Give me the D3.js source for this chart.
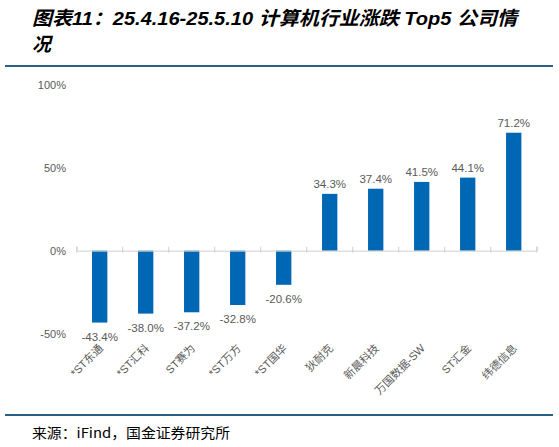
<!DOCTYPE html>
<html><head><meta charset="utf-8">
<script src="https://cdn.jsdelivr.net/npm/d3@7"></script>
<style>
html,body{margin:0;padding:0;background:#fff;}
svg{display:block;}
</style></head>
<body>
<svg id="c" width="559" height="447"></svg>
<script>
const categories = ["*ST东通","*ST汇科","ST赛为","*ST万方","*ST国华","狄耐克","新晨科技","万国数据-SW","ST汇金","纬德信息"];
const values = [-43.4,-38.0,-37.2,-32.8,-20.6,34.3,37.4,41.5,44.1,71.2];
const yTicks = [-50,0,50,100];

const svg = d3.select("#c");
const font = "Arial, 'Liberation Sans', 'Noto Sans CJK SC', sans-serif";
const grey = "#595959";

// title
const title = svg.append("text").attr("font-family", font).attr("font-weight","bold")
  .attr("font-style","italic").attr("font-size",19).attr("fill","#000");
title.append("tspan").attr("x",32).attr("y",25).attr("textLength",485).attr("lengthAdjust","spacingAndGlyphs")
  .text("图表11：25.4.16-25.5.10 计算机行业涨跌 Top5 公司情");
title.append("tspan").attr("x",32).attr("y",51).text("况");

// rules
svg.append("line").attr("x1",5).attr("x2",553).attr("y1",66).attr("y2",66)
  .attr("stroke","#2a5f86").attr("stroke-width",2);
svg.append("line").attr("x1",5).attr("x2",553).attr("y1",415).attr("y2",415)
  .attr("stroke","#2a5f86").attr("stroke-width",2);

const x = d3.scaleBand().domain(categories).range([76.7,536.7]).paddingInner(0.667).paddingOuter(0.333);
const y = d3.scaleLinear().domain([-50,100]).range([333.5,85]);

// y axis labels
const yAxis = d3.axisLeft(y).tickValues(yTicks).tickFormat(d=>d+"%").tickSize(0).tickPadding(0);
const ga = svg.append("g").attr("transform","translate(66,0)").call(yAxis);
ga.select(".domain").remove();
ga.selectAll("text").attr("font-family",font).attr("font-size",11).attr("fill",grey).attr("dy","0.35em");

// bars
svg.append("g").selectAll("rect").data(values).join("rect")
  .attr("x",(d,i)=>x(categories[i]))
  .attr("width",x.bandwidth())
  .attr("y",d=>y(Math.max(0,d)))
  .attr("height",d=>Math.abs(y(d)-y(0)))
  .attr("fill","#0067b4");

// zero axis with ticks
const xAxis = d3.axisTop(x).tickSize(4).tickFormat("");
const gx = svg.append("g").attr("transform",`translate(0,${y(0)})`).call(xAxis);
gx.select(".domain").attr("stroke","#d0d0d0");
gx.selectAll(".tick").remove();
const edges = d3.range(categories.length+1).map(i=>76.7+i*x.step());
gx.selectAll("line.t").data(edges).join("line").attr("class","t")
  .attr("x1",d=>d).attr("x2",d=>d).attr("y1",-4).attr("y2",2).attr("stroke","#d0d0d0");

// value labels
svg.append("g").selectAll("text").data(values).join("text")
  .attr("x",(d,i)=>x(categories[i])+x.bandwidth()/2)
  .attr("y",d=> d>=0 ? y(d)-6 : y(d)+18)
  .attr("text-anchor","middle").attr("font-family",font).attr("font-size",11.5).attr("fill",grey)
  .text(d=>d.toFixed(1)+"%");

// category labels
svg.append("g").selectAll("text").data(categories).join("text")
  .attr("transform",d=>`translate(${x(d)+x.bandwidth()/2+4},${349}) rotate(-45)`)
  .attr("text-anchor","end").attr("font-family",font).attr("font-size",11).attr("fill",grey)
  .text(d=>d);

// source
svg.append("text").attr("x",32).attr("y",438).attr("font-family","'Noto Sans CJK SC', sans-serif")
  .attr("font-size",13.5).attr("fill","#000").attr("textLength",198).attr("lengthAdjust","spacingAndGlyphs")
  .text("来源：iFind，国金证券研究所");
</script>
</body></html>
